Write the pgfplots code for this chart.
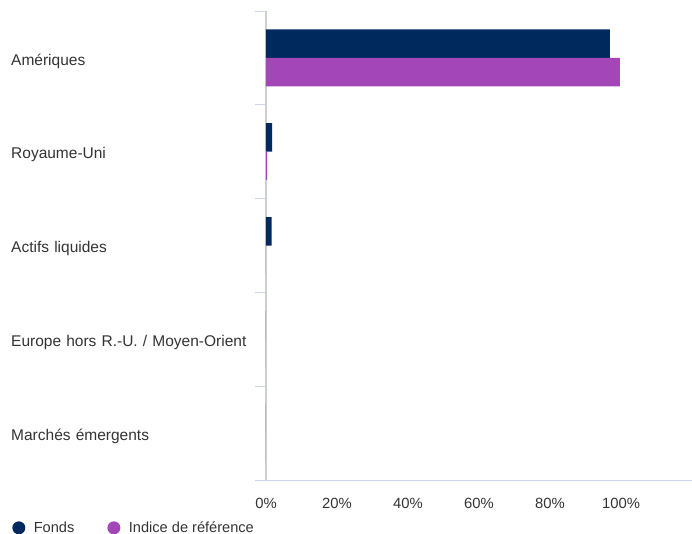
\documentclass[border=0pt]{standalone}
\usepackage{fontspec}
\setmainfont{Liberation Sans}
\usepackage{pgfplots}
\pgfplotsset{compat=1.18}

\definecolor{fonds}{HTML}{002A5E}
\definecolor{indice}{HTML}{A347B8}
\definecolor{txt}{HTML}{333333}
\definecolor{tickcol}{HTML}{CCD6EB}
\definecolor{yline}{HTML}{CFCFCF}

\begin{document}
\begin{tikzpicture}
\useasboundingbox (-266pt,-54pt) rectangle (426pt,480pt);
\begin{axis}[
    at={(0,0)}, anchor=south west,
    scale only axis,
    width=426pt, height=469pt,
    xbar, bar width=28.5pt,
    xmin=0, xmax=120,
    ymin=-0.5, ymax=4.5,
    y dir=reverse,
    axis lines*=left,
    x axis line style={draw=tickcol, line width=0.8pt},
    y axis line style={draw=yline, line width=1.3pt},
    xtick={0,20,40,60,80,100},
    xticklabel={\pgfmathprintnumber{\tick}\%},
    xtick style={draw=none},
    xticklabel style={font=\fontsize{14.8}{17}\selectfont, text=txt, yshift=-10pt},
    ytick={0,1,2,3,4},
    yticklabels={Amériques,Royaume-Uni,Actifs liquides,Europe hors R.-U. / Moyen-Orient,Marchés émergents},
    major y tick style={draw=none},
    minor ytick={-0.5,0.5,1.5,2.5,3.5,4.5},
    minor y tick style={draw=tickcol, line width=0.8pt},
    minor tick length=11pt,
    tick align=outside,
    yticklabel style={font=\fontsize{15.5}{17}\selectfont, text=txt, text width=247pt, align=left, yshift=-3pt},
    /pgf/number format/assume math mode=true,
    legend style={at={(axis description cs:-0.603,-0.102)}, anchor=west, draw=none, fill=none,
        legend columns=2, font=\fontsize{14.6}{17}\selectfont, text=txt,
        /tikz/every even column/.append style={column sep=31pt}},
    legend cell align=left,
]
\addplot[draw=none, fill=fonds, bar shift=14.25pt,
    legend image code/.code={\fill[fonds] (0pt,0pt) circle (6.5pt); \path (13pt,0pt);}]
    coordinates {(96.9,0) (1.7,1) (1.6,2) (0,3) (0,4)};
\addplot[draw=none, fill=indice, bar shift=-14.25pt,
    legend image code/.code={\fill[indice] (0pt,0pt) circle (6.5pt); \path (13pt,0pt);}]
    coordinates {(99.7,0) (0.3,1) (0,2) (0,3) (0,4)};
\legend{Fonds, Indice de référence}
\end{axis}
\end{tikzpicture}
\end{document}
